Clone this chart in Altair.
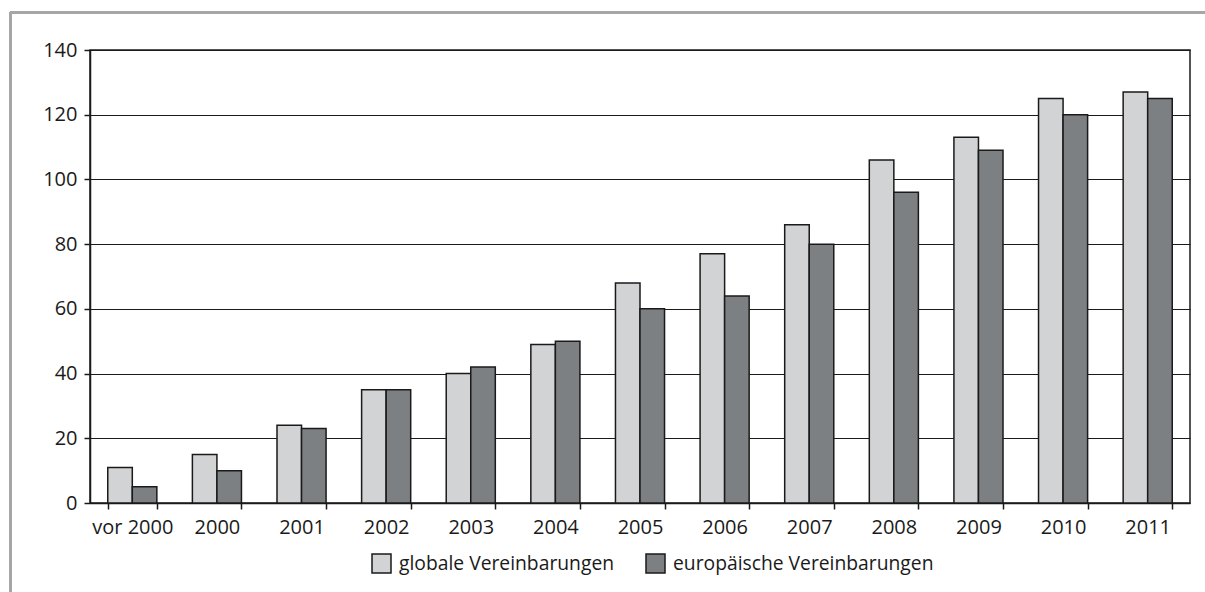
import altair as alt
import pandas as pd

categories = ["vor 2000", "2000", "2001", "2002", "2003", "2004", "2005",
              "2006", "2007", "2008", "2009", "2010", "2011"]
series_names = ["globale Vereinbarungen", "europäische Vereinbarungen"]
globale = [11, 15, 24, 35, 40, 49, 68, 77, 86, 106, 113, 125, 127]
europaeische = [5, 10, 23, 35, 42, 50, 60, 64, 80, 96, 109, 120, 125]
y_ticks = [0, 20, 40, 60, 80, 100, 120, 140]

rows = []
for i, c in enumerate(categories):
    rows.append({"Jahr": c, "Serie": series_names[0], "Wert": globale[i]})
    rows.append({"Jahr": c, "Serie": series_names[1], "Wert": europaeische[i]})
df = pd.DataFrame(rows)

FONT = "Open Sans"

bars = alt.Chart(df).mark_bar(stroke="#1a1a1a", strokeWidth=1.5).encode(
    x=alt.X("Jahr:N", sort=categories, title=None,
            scale=alt.Scale(paddingInner=0.42, paddingOuter=0.21),
            axis=alt.Axis(labelAngle=0, tickBand="extent", ticks=True, tickSize=6,
                          tickColor="#1a1a1a", tickWidth=1.5, domainColor="#1a1a1a",
                          domainWidth=1.5, labelPadding=8, grid=False)),
    xOffset=alt.XOffset("Serie:N", sort=series_names,
                        scale=alt.Scale(paddingInner=0, paddingOuter=0)),
    y=alt.Y("Wert:Q", title=None,
            scale=alt.Scale(domain=[0, 140], nice=False),
            axis=alt.Axis(values=y_ticks, grid=True, gridColor="#1a1a1a", gridWidth=1.2,
                          tickSize=6, tickColor="#1a1a1a", tickWidth=1.5,
                          domainColor="#1a1a1a", domainWidth=1.5, labelPadding=7)),
    color=alt.Color("Serie:N", sort=series_names,
                    scale=alt.Scale(domain=series_names, range=["#D1D3D4", "#7C8083"]),
                    legend=alt.Legend(title=None, orient="none", direction="horizontal",
                                      legendX=281, legendY=503,
                                      symbolType="square", symbolSize=361,
                                      symbolStrokeColor="#1a1a1a", symbolStrokeWidth=1.5,
                                      labelFontSize=19.3, labelFont=FONT, labelColor="#1a1a1a",
                                      labelLimit=0, columnPadding=28, labelOffset=7)),
)

border_top = alt.Chart(df).mark_rule(color="#a6a6a6", strokeWidth=2).encode(
    x=alt.value(-80), x2=alt.value(1120), y=alt.value(-37.5))
border_left = alt.Chart(df).mark_rule(color="#a6a6a6", strokeWidth=2).encode(
    x=alt.value(-79.5), y=alt.value(-37.5), y2=alt.value(560))

chart = alt.layer(border_top, border_left, bars).properties(
    width=1100, height=453,
    autosize=alt.AutoSizeParams(type="none"),
    padding={"left": 90, "top": 50, "right": 15, "bottom": 89},
    background="white",
).configure_view(stroke="#1a1a1a", strokeWidth=1.5).configure_axis(
    labelFont=FONT, labelFontSize=20, labelColor="#1a1a1a"
)

chart.save("out.html", embed_options={"renderer": "svg", "actions": False})
